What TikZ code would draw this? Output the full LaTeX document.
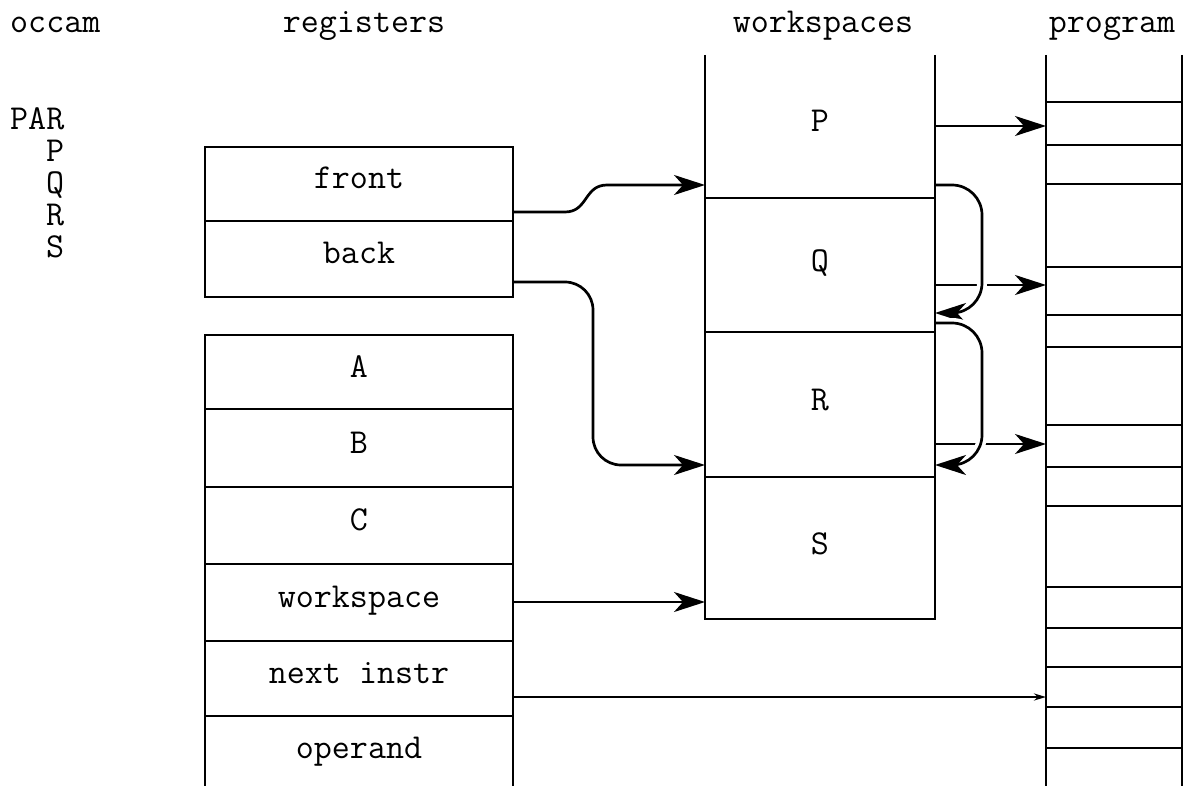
\documentclass[tikz,border=0pt]{standalone}
\usetikzlibrary{arrows.meta}
\begin{document}
\begin{tikzpicture}[x=1pt,y=-1pt,
  tt/.style={font=\ttfamily\fontsize{35}{35}\selectfont, inner sep=0pt},
  ln/.style={line width=2.7pt},
  regbox/.style={tt, draw, line width=2.7pt, minimum width=308pt, text height=10pt, text depth=0pt},
  wsbox/.style={tt, draw, line width=2.7pt, minimum width=230pt, text height=12pt, text depth=0pt},
  lbl/.style={tt, text height=12pt, text depth=0pt},
  arr/.style={line width=2.7pt, -{Stealth[length=31pt,width=20pt,inset=9pt]}},
  smallarr/.style={line width=2.7pt, -{Stealth[length=12pt,width=7pt]}},
  loopy/.style={arr, rounded corners=30pt, preaction={draw=white, line width=10pt, arrows=-}}
]
\useasboundingbox (0,0) rectangle (1185,786);

% headings
\node[tt, anchor=base west] (hoccam) at (10,33) {occam};
\node[tt, anchor=base] (hreg) at (364,33) {registers};
\node[tt, anchor=base] (hws) at (823,33) {workspaces};
\node[tt, anchor=base] (hprog) at (1112,33) {program};

% occam program
\node[tt, anchor=north west, align=left, font=\ttfamily\fontsize{35}{32}\selectfont] (occprog) at (10,107)
  {PAR\\\ \ P\\\ \ Q\\\ \ R\\\ \ S};

% registers
\node[regbox, minimum height=74pt] (front) at (359,184) {front};
\node[regbox, minimum height=76pt] (back) at (359,259) {back};
\node[regbox, minimum height=74pt] (A) at (359,372) {A};
\node[regbox, minimum height=78pt] (B) at (359,448) {B};
\node[regbox, minimum height=77pt] (C) at (359,525.5) {C};
\node[regbox, minimum height=77pt] (wsreg) at (359,602.5) {workspace};
\node[regbox, minimum height=75pt] (ni) at (359,678.5) {next instr};
\node[lbl] (operand) at (359,752) {operand};
\draw[ln] (205,716) -- (205,786);
\draw[ln] (513,716) -- (513,786);

% program column
\draw[ln] (1046,55) -- (1046,786);
\draw[ln] (1182,55) -- (1182,786);
\foreach \yy in {102,145,184,267,315,347,425,467,506,587,628,667,707,748}
  \draw[ln] (1046,\yy) -- (1182,\yy);

% connector end points
\coordinate (fo) at (513,212);
\coordinate (fi) at (705,185);
\coordinate (bo) at (513,282);
\coordinate (bi) at (705,465);
\coordinate (wo) at (513,602);
\coordinate (wi) at (705,602);
\coordinate (nio) at (513,697);
\coordinate (nii) at (1046,697);
\coordinate (po) at (935,126);
\coordinate (pi) at (1046,126);
\coordinate (qo) at (935,285);
\coordinate (qi) at (1046,285);
\coordinate (ro) at (935,444);
\coordinate (ri) at (1046,444);
\coordinate (l1s) at (935,185);
\coordinate (l1e) at (935,313);
\coordinate (l2s) at (935,323);
\coordinate (l2e) at (935,465);

% connectors
\draw[arr] (fo) -- (565,212) .. controls (588,212) and (584,185) .. (607,185) -- (fi);
\draw[arr, rounded corners=28pt] (bo) -- (593,282) -- (593,465) -- (bi);
\draw[arr] (wo) -- (wi);
\draw[smallarr] (nio) -- (nii);
\draw[arr] (po) -- (pi);
\draw[arr] (qo) -- (qi);
\draw[arr] (ro) -- (ri);
\draw[loopy] (l1s) -- (982,185) -- (982,313) -- (l1e);
\draw[loopy] (l2s) -- (982,323) -- (982,465) -- (l2e);

% workspaces
\draw[ln] (705,55) -- (705,198);
\draw[ln] (935,55) -- (935,198);
\node[lbl] (wP) at (820,126) {P};
\node[wsbox, minimum height=134pt] (wQ) at (820,265) {Q};
\node[wsbox, minimum height=145pt] (wR) at (820,404.5) {R};
\node[wsbox, minimum height=142pt] (wS) at (820,548) {S};
\end{tikzpicture}
\end{document}
